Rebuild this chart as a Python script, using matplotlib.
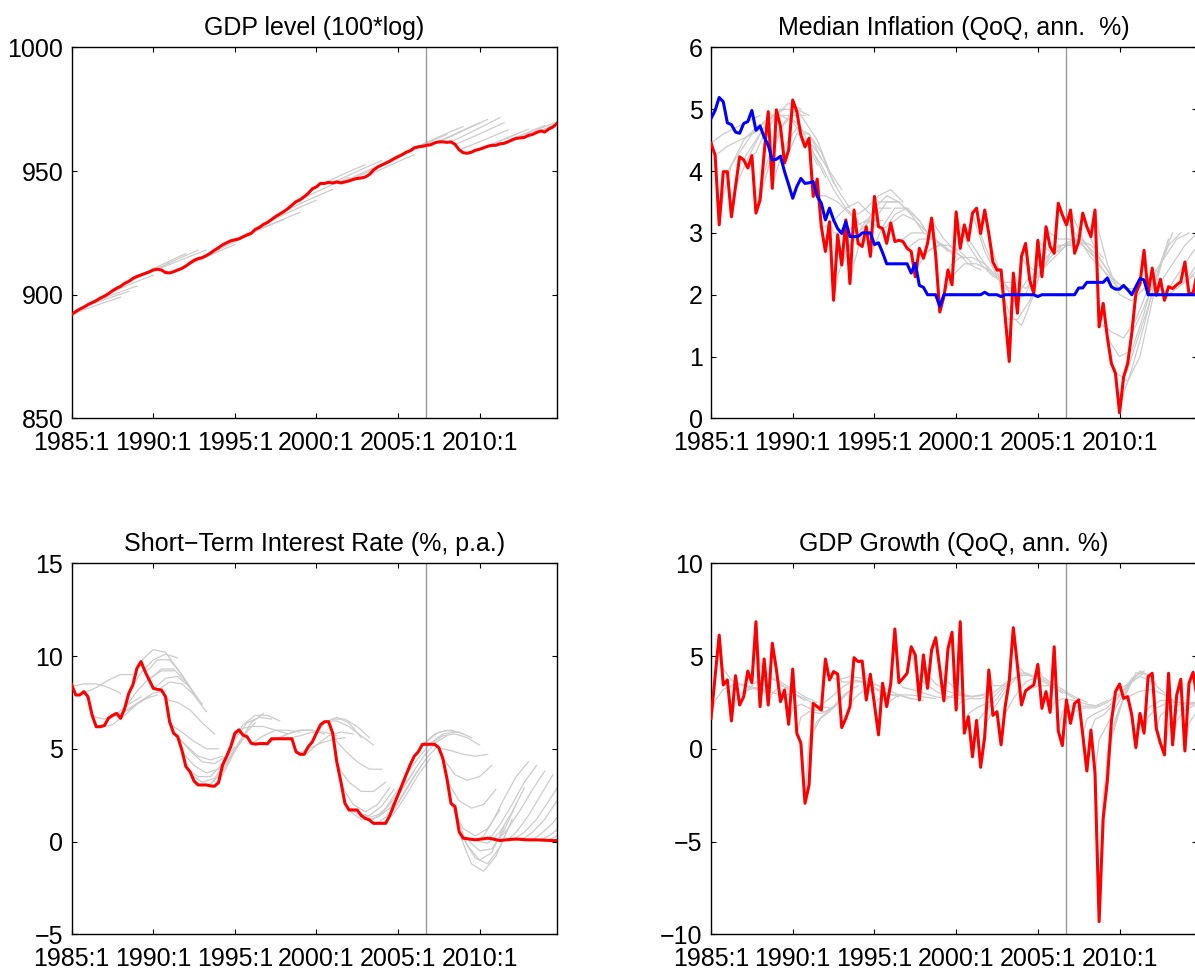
import numpy as np
import matplotlib
matplotlib.use("Agg")
import matplotlib.pyplot as plt

plt.rcParams['font.family'] = ['Liberation Sans', 'DejaVu Sans']
plt.rcParams['font.size'] = 18

# quarterly sample 1985:1 - 2014:4
n_q = 120
dates = 1985 + np.arange(n_q) / 4.0
vline_date = 2006.75
tick_years = [1985, 1990, 1995, 2000, 2005, 2010]
tick_labels = ["1985:1", "1990:1", "1995:1", "2000:1", "2005:1", "2010:1"]

# ---- actual data (red) ----
gdp_level = [892.0, 893.2, 894.2, 895.0, 896.0, 896.8, 897.6, 898.6,
             899.4, 900.4, 901.6, 902.6, 903.4, 904.6, 905.4, 906.6,
             907.4, 908.0, 908.6, 909.2, 910.0, 910.3, 910.0, 909.0,
             908.8, 909.3, 910.0, 910.6, 911.6, 912.8, 913.9, 914.6,
             915.0, 915.8, 916.8, 918.0, 919.0, 920.2, 921.0, 921.8,
             922.2, 922.6, 923.4, 924.2, 924.8, 926.4, 927.2, 928.4,
             929.2, 930.4, 931.6, 932.6, 933.6, 934.8, 936.2, 937.6,
             938.4, 939.6, 941.0, 942.8, 943.6, 945.0, 945.0, 945.4,
             945.2, 945.6, 945.2, 945.6, 946.0, 946.6, 947.0, 947.2,
             947.6, 948.6, 950.4, 951.6, 952.4, 953.2, 954.0, 955.0,
             955.8, 956.6, 957.6, 958.2, 959.4, 959.8, 960.0, 960.4,
             960.6, 961.4, 961.8, 961.8, 961.6, 961.8, 960.8, 958.6,
             957.4, 957.2, 957.6, 958.4, 958.8, 959.4, 960.0, 960.4,
             960.4, 961.0, 961.2, 961.8, 962.6, 963.2, 963.4, 963.6,
             964.4, 964.8, 965.6, 966.2, 965.8, 967.0, 967.8, 969.2]

inflation = [4.45, 4.26, 3.13, 3.99, 3.99, 3.26, 3.75, 4.23, 4.18, 4.05,
             4.25, 3.32, 3.53, 4.29, 4.96, 3.72, 4.99, 4.72, 4.13, 4.34,
             5.15, 4.96, 4.58, 4.39, 4.53, 3.59, 3.87, 3.10, 2.70, 3.18,
             1.91, 2.97, 2.48, 3.21, 2.18, 3.37, 2.83, 2.78, 3.10, 2.62,
             3.59, 3.10, 3.07, 2.83, 3.16, 2.86, 2.88, 2.86, 2.75, 2.70,
             2.29, 2.75, 2.59, 2.83, 3.24, 2.64, 1.72, 1.97, 2.40, 2.16,
             3.34, 2.75, 3.13, 2.88, 3.32, 3.40, 2.99, 3.37, 2.99, 2.53,
             2.40, 2.40, 1.65, 0.92, 2.35, 1.70, 2.62, 2.83, 2.24, 2.02,
             2.88, 2.29, 3.10, 2.78, 2.67, 3.48, 3.29, 3.13, 3.37, 2.67,
             2.86, 3.32, 3.10, 2.94, 3.37, 1.48, 1.86, 1.32, 0.89, 0.73,
             0.09, 0.67, 0.89, 1.38, 2.02, 2.18, 2.72, 2.02, 2.43, 1.99,
             2.25, 1.91, 2.13, 2.10, 2.16, 2.21, 2.53, 2.02, 2.02, 2.35]

infl_target = [4.85, 4.98, 5.19, 5.12, 4.78, 4.75, 4.63, 4.61, 4.77, 4.80,
               4.98, 4.66, 4.73, 4.55, 4.42, 4.18, 4.19, 4.24, 3.99, 3.78,
               3.56, 3.75, 3.88, 3.80, 3.81, 3.83, 3.59, 3.48, 3.21, 3.40,
               3.21, 3.07, 2.99, 3.18, 2.94, 2.94, 2.94, 3.00, 3.00, 3.00,
               2.81, 2.84, 2.68, 2.50, 2.50, 2.50, 2.50, 2.50, 2.50, 2.35,
               2.51, 2.15, 2.12, 2.00, 2.00, 2.00, 1.81, 2.00, 2.00, 2.00,
               2.00, 2.00, 2.00, 2.00, 2.00, 2.00, 2.00, 2.04, 2.00, 2.00,
               2.00, 1.97, 2.00, 2.00, 2.00, 2.00, 2.00, 2.00, 2.00, 2.00,
               1.97, 2.00, 2.00, 2.00, 2.00, 2.00, 2.00, 2.00, 2.00, 2.00,
               2.11, 2.11, 2.20, 2.20, 2.20, 2.20, 2.20, 2.27, 2.13, 2.09,
               2.09, 2.15, 2.08, 2.00, 2.13, 2.26, 2.24, 2.00, 2.00, 2.00,
               2.00, 2.00, 2.00, 2.00, 2.00, 2.00, 2.00, 2.00, 2.00, 2.00]

interest = [8.44, 7.90, 7.90, 8.08, 7.80, 6.82, 6.19, 6.19, 6.25, 6.64,
            6.80, 6.91, 6.64, 7.18, 7.99, 8.44, 9.34, 9.70, 9.16, 8.71,
            8.26, 8.20, 8.17, 7.81, 6.46, 5.84, 5.65, 4.94, 4.04, 3.77,
            3.26, 3.05, 3.05, 3.05, 3.00, 2.98, 3.17, 4.13, 4.60, 5.11,
            5.84, 6.02, 5.74, 5.65, 5.30, 5.25, 5.28, 5.28, 5.27, 5.54,
            5.54, 5.54, 5.54, 5.54, 5.54, 4.84, 4.70, 4.70, 5.11, 5.37,
            5.84, 6.29, 6.46, 6.46, 5.84, 4.30, 3.23, 2.06, 1.70, 1.70,
            1.70, 1.40, 1.25, 1.16, 0.98, 0.98, 0.98, 0.98, 1.40, 1.97,
            2.50, 3.05, 3.60, 4.13, 4.60, 4.84, 5.24, 5.24, 5.24, 5.24,
            5.06, 4.49, 3.41, 2.06, 1.88, 0.53, 0.18, 0.15, 0.12, 0.09,
            0.12, 0.15, 0.18, 0.15, 0.10, 0.05, 0.08, 0.10, 0.12, 0.13,
            0.12, 0.10, 0.09, 0.09, 0.09, 0.08, 0.07, 0.06, 0.05, 0.05]

gdp_growth = [1.64, 3.90, 6.13, 3.44, 3.71, 1.50, 3.94, 2.36, 2.81, 4.19,
              3.56, 6.85, 2.27, 4.84, 2.36, 5.69, 4.28, 2.54, 3.17, 1.32,
              4.30, 0.84, 0.30, -2.94, -1.95, 2.45, 2.27, 2.09, 4.84, 3.71,
              4.16, 4.03, 1.14, 1.64, 2.27, 4.91, 4.70, 4.73, 2.63, 4.02,
              2.40, 0.75, 3.53, 2.27, 3.53, 6.46, 3.56, 3.80, 4.07, 5.50,
              5.06, 2.63, 5.06, 3.26, 5.33, 5.99, 4.30, 2.58, 5.39, 6.28,
              2.09, 6.85, 0.84, 1.73, -0.43, 1.53, -1.00, 0.66, 4.25, 1.80,
              2.00, 0.21, 2.27, 3.66, 6.53, 4.50, 2.36, 3.12, 3.30, 3.44,
              4.55, 2.18, 3.08, 1.96, 5.50, 0.96, 0.17, 2.63, 1.37, 2.45,
              2.63, 0.75, -1.20, 1.01, -1.32, -9.32, -3.75, -1.77, 1.46, 3.08,
              3.49, 2.72, 2.81, 1.82, 0.06, 1.91, 0.84, 3.89, 4.07, 1.10,
              0.30, -0.33, 4.07, 0.21, 2.90, 3.75, -0.12, 3.53, 4.12, 2.72]

# ---- forecasts (grey): origin quarter, values 1,3,6,9,12 quarters ahead ----
fc_steps = [1, 3, 6, 9, 12]

fc_gdp_level = [
    (0, [892.6, 893.9, 895.7, 897.4, 899.0]),
    (2, [894.9, 896.2, 898.0, 899.7, 901.3]),
    (4, [896.7, 898.1, 900.0, 901.8, 903.5]),
    (8, [900.2, 901.8, 904.0, 906.0, 907.9]),
    (12, [904.2, 905.9, 908.3, 910.6, 912.8]),
    (16, [908.2, 909.8, 912.1, 914.4, 916.6]),
    (19, [909.9, 911.4, 913.7, 915.9, 918.0]),
    (21, [910.9, 912.2, 914.2, 916.2, 918.0]),
    (24, [909.5, 911.0, 913.2, 915.4, 917.5]),
    (28, [912.3, 913.8, 916.0, 918.2, 920.3]),
    (32, [915.8, 917.4, 919.8, 922.1, 924.3]),
    (36, [919.8, 921.4, 923.7, 925.9, 928.0]),
    (40, [922.9, 924.4, 926.5, 928.5, 930.4]),
    (44, [925.5, 927.0, 929.2, 931.3, 933.3]),
    (48, [930.0, 931.6, 933.9, 936.1, 938.2]),
    (52, [934.4, 936.0, 938.3, 940.5, 942.6]),
    (56, [939.2, 940.8, 943.1, 945.3, 947.4]),
    (60, [944.4, 946.0, 948.3, 950.5, 952.6]),
    (64, [946.0, 947.6, 949.9, 952.1, 954.2]),
    (66, [945.9, 947.5, 949.8, 952.0, 954.1]),
    (68, [946.8, 948.4, 950.7, 952.9, 955.0]),
    (72, [948.4, 950.0, 952.3, 954.5, 956.6]),
    (76, [953.2, 954.8, 957.1, 959.3, 961.4]),
    (80, [956.6, 958.2, 960.5, 962.7, 964.8]),
    (84, [960.1, 961.6, 963.8, 966.0, 968.0]),
    (88, [961.3, 962.8, 965.0, 967.3, 969.5]),
    (90, [962.5, 964.0, 966.3, 968.6, 970.9]),
    (93, [962.6, 964.2, 966.6, 969.1, 971.6]),
    (94, [961.4, 962.8, 965.0, 967.3, 969.5]),
    (95, [959.2, 960.5, 962.5, 964.6, 966.6]),
    (98, [958.2, 959.5, 961.5, 963.6, 965.6]),
    (100, [959.4, 960.8, 962.8, 964.9, 966.9]),
    (104, [961.0, 962.4, 964.4, 966.4, 968.4]),
    (108, [963.2, 964.6, 966.6, 968.6, 970.6]),
    (112, [965.0, 966.4, 968.4, 970.4, 972.4]),
]

fc_inflation = [
    (0, [4.5, 4.6, 4.7, 4.8, 4.9]), (1, [4.3, 4.4, 4.5, 4.6, 4.7]),
    (2, [3.6, 4.1, 4.5, 4.7, 4.8]), (4, [4.1, 4.3, 4.6, 4.8, 4.9]),
    (6, [3.9, 4.2, 4.6, 4.9, 5.0]), (8, [4.3, 4.5, 4.8, 5.0, 5.0]),
    (10, [4.3, 4.6, 4.9, 5.1, 5.0]), (11, [3.7, 4.2, 4.7, 4.9, 4.9]),
    (12, [3.8, 4.3, 4.8, 5.0, 4.9]), (14, [4.9, 4.9, 4.8, 4.5, 4.1]),
    (15, [4.0, 4.4, 4.7, 4.6, 4.2]), (16, [4.9, 4.9, 4.7, 4.3, 3.9]),
    (18, [4.3, 4.6, 4.6, 4.3, 3.8]), (20, [5.0, 4.8, 4.5, 4.0, 3.7]),
    (22, [4.5, 4.4, 4.1, 3.7, 3.4]), (24, [4.3, 4.1, 3.7, 3.4, 3.2]),
    (25, [3.6, 3.6, 3.5, 3.3, 3.1]), (27, [3.1, 3.2, 3.4, 3.5, 3.3]),
    (29, [3.0, 3.0, 3.1, 3.2, 3.1]), (30, [2.3, 2.7, 3.0, 3.2, 3.2]),
    (32, [2.6, 2.9, 3.2, 3.4, 3.4]), (34, [2.5, 3.0, 3.4, 3.6, 3.5]),
    (35, [3.3, 3.4, 3.6, 3.7, 3.5]), (37, [2.9, 3.2, 3.5, 3.5, 3.3]),
    (39, [2.8, 3.1, 3.4, 3.4, 3.2]), (40, [3.5, 3.5, 3.5, 3.3, 3.0]),
    (42, [3.1, 3.3, 3.4, 3.2, 2.9]), (44, [3.2, 3.3, 3.2, 3.0, 2.8]),
    (46, [2.9, 3.0, 3.0, 2.9, 2.7]), (48, [2.8, 2.9, 2.9, 2.8, 2.6]),
    (50, [2.5, 2.7, 2.8, 2.7, 2.6]), (52, [2.7, 2.8, 2.8, 2.7, 2.5]),
    (54, [3.1, 2.9, 2.7, 2.5, 2.4]), (56, [2.0, 2.3, 2.5, 2.5, 2.4]),
    (58, [2.5, 2.6, 2.6, 2.5, 2.3]), (60, [3.1, 2.8, 2.5, 2.3, 2.2]),
    (62, [2.9, 2.7, 2.4, 2.2, 2.2]), (64, [3.1, 2.7, 2.3, 2.1, 2.2]),
    (66, [2.8, 2.5, 2.1, 2.0, 2.3]), (68, [2.7, 2.3, 1.9, 2.0, 2.5]),
    (70, [2.1, 1.7, 1.5, 2.0, 2.7]), (72, [1.6, 1.6, 1.9, 2.4, 2.8]),
    (74, [2.2, 2.1, 2.3, 2.6, 2.8]), (76, [2.5, 2.4, 2.6, 2.8, 2.8]),
    (78, [2.3, 2.4, 2.6, 2.8, 2.8]), (80, [2.8, 2.7, 2.8, 2.9, 2.8]),
    (82, [3.0, 2.9, 2.9, 2.8, 2.6]), (84, [2.7, 2.8, 2.9, 2.8, 2.6]),
    (86, [3.2, 3.0, 2.8, 2.6, 2.3]), (88, [3.2, 2.9, 2.6, 2.3, 2.1]),
    (90, [2.8, 2.6, 2.4, 2.2, 2.1]), (92, [2.9, 2.6, 2.3, 2.1, 2.1]),
    (94, [3.0, 2.5, 2.0, 1.9, 2.1]), (95, [1.5, 1.4, 1.3, 1.6, 2.1]),
    (97, [1.2, 1.0, 1.1, 1.7, 2.4]), (99, [0.7, 0.6, 1.0, 1.9, 2.7]),
    (100, [0.4, 0.8, 1.5, 2.3, 2.9]), (101, [0.8, 1.2, 1.8, 2.5, 3.0]),
    (103, [1.5, 1.8, 2.3, 2.8, 3.0]), (105, [2.2, 2.3, 2.6, 2.9, 3.0]),
    (107, [2.1, 2.2, 2.5, 2.8, 3.0]), (109, [2.0, 2.1, 2.4, 2.7, 2.9]),
    (111, [2.0, 2.1, 2.3, 2.6, 2.8]), (113, [2.1, 2.2, 2.4, 2.6, 2.8]),
    (115, [2.2, 2.3, 2.4, 2.6, 2.7]),
]

fc_interest = [
    (0, [8.4, 8.5, 8.5, 8.3, 8.0]), (3, [8.1, 8.3, 8.7, 9.0, 9.0]),
    (5, [6.7, 6.6, 6.9, 7.4, 7.8]), (7, [6.2, 6.3, 6.8, 7.4, 7.8]),
    (9, [6.7, 6.9, 7.3, 7.7, 7.9]), (11, [6.9, 7.1, 7.6, 8.0, 8.1]),
    (13, [7.5, 8.1, 8.8, 9.2, 9.2]), (14, [8.4, 9.1, 9.8, 10.1, 9.9]),
    (17, [9.95, 10.35, 10.2, 9.3, 8.3]), (18, [9.3, 9.8, 9.8, 9.0, 8.0]),
    (19, [8.9, 9.3, 9.3, 8.6, 7.6]), (20, [8.4, 8.8, 8.9, 8.3, 7.4]),
    (21, [8.3, 8.6, 8.5, 7.9, 7.0]), (23, [7.6, 7.5, 7.1, 6.4, 5.8]),
    (24, [6.2, 5.9, 5.4, 5.0, 5.0]), (25, [5.6, 5.2, 4.6, 4.4, 4.6]),
    (26, [5.4, 4.9, 4.3, 4.2, 4.6]), (27, [4.6, 4.1, 3.7, 3.9, 4.6]),
    (28, [3.8, 3.5, 3.5, 4.2, 5.1]), (29, [3.5, 3.2, 3.4, 4.3, 5.3]),
    (31, [3.0, 3.1, 3.8, 4.9, 5.8]), (33, [3.1, 3.5, 4.6, 5.7, 6.4]),
    (35, [3.2, 4.0, 5.3, 6.4, 6.9]), (37, [4.6, 5.5, 6.4, 6.7, 6.6]),
    (39, [5.6, 6.3, 6.8, 6.8, 6.5]), (41, [6.1, 6.2, 6.2, 6.0, 5.8]),
    (44, [5.4, 5.7, 6.0, 6.0, 5.9]), (47, [5.3, 5.5, 5.8, 6.0, 6.0]),
    (50, [5.6, 5.8, 6.0, 6.0, 5.8]), (53, [5.6, 5.7, 5.9, 5.9, 5.7]),
    (55, [4.8, 5.0, 5.3, 5.5, 5.6]), (57, [4.8, 5.2, 5.7, 5.9, 5.8]),
    (59, [5.8, 6.4, 6.7, 6.4, 5.6]), (61, [6.4, 6.6, 6.6, 6.2, 5.6]),
    (62, [6.5, 6.5, 6.2, 5.7, 5.2]), (64, [5.4, 4.9, 4.3, 3.9, 3.9]),
    (65, [3.8, 3.2, 2.7, 2.7, 3.2]), (66, [2.7, 2.0, 1.6, 2.0, 2.9]),
    (67, [1.8, 1.5, 1.4, 1.9, 2.8]), (68, [1.5, 1.2, 1.2, 1.8, 2.8]),
    (70, [1.5, 1.3, 1.5, 2.3, 3.3]), (72, [1.2, 1.3, 1.8, 2.8, 3.8]),
    (74, [1.0, 1.3, 2.1, 3.2, 4.2]), (76, [1.1, 1.5, 2.5, 3.6, 4.5]),
    (78, [1.7, 2.4, 3.5, 4.5, 5.2]), (80, [2.8, 3.5, 4.5, 5.3, 5.7]),
    (82, [3.9, 4.5, 5.3, 5.8, 5.9]), (84, [4.9, 5.4, 5.9, 6.0, 5.8]),
    (86, [5.4, 5.8, 6.0, 5.9, 5.6]), (88, [5.4, 5.7, 5.8, 5.6, 5.2]),
    (90, [5.0, 4.9, 4.7, 4.6, 4.7]), (91, [4.2, 3.6, 3.3, 3.5, 4.1]),
    (92, [2.9, 2.2, 1.8, 2.0, 2.8]), (93, [1.5, 0.7, 0.3, 0.7, 1.7]),
    (94, [1.0, -0.2, -1.0, -0.6, 0.8]), (95, [-0.1, -1.2, -1.6, -0.8, 0.7]),
    (96, [-0.2, -0.9, -1.2, -0.3, 1.2]), (97, [-0.1, -0.5, -0.4, 0.6, 2.0]),
    (99, [0.0, -0.1, 0.5, 1.6, 2.9]), (100, [0.3, 1.0, 2.3, 3.5, 4.3]),
    (102, [0.3, 0.9, 2.0, 3.2, 4.1]), (104, [0.2, 0.7, 1.7, 2.8, 3.8]),
    (106, [0.1, 0.5, 1.4, 2.5, 3.6]), (108, [0.2, 0.5, 1.2, 2.2, 3.2]),
    (110, [0.2, 0.5, 1.2, 2.2, 3.2]), (112, [0.1, 0.4, 1.0, 1.9, 2.9]),
    (114, [0.1, 0.3, 0.8, 1.6, 2.5]), (116, [0.1, 0.3, 0.7, 1.4, 2.2]),
]

fc_gdp_growth = [
    (0, [2.6, 3.2, 3.5, 3.4, 3.2]), (2, [4.3, 3.7, 3.4, 3.2, 3.0]),
    (5, [2.6, 3.1, 3.3, 3.1, 2.9]), (8, [3.2, 3.6, 3.8, 3.6, 3.2]),
    (11, [4.5, 4.0, 3.5, 3.0, 2.6]), (14, [3.0, 3.4, 3.2, 2.8, 2.5]),
    (17, [2.9, 3.0, 2.7, 2.3, 2.2]), (19, [2.2, 2.4, 2.1, 2.0, 2.4]),
    (21, [1.7, 2.0, 1.9, 2.2, 2.9]), (23, [0.5, 1.5, 2.0, 2.7, 3.3]),
    (24, [0.9, 1.7, 2.3, 3.0, 3.4]), (26, [2.4, 2.7, 3.3, 3.7, 3.6]),
    (28, [3.9, 3.7, 3.9, 3.8, 3.4]), (31, [3.6, 3.6, 3.6, 3.3, 3.0]),
    (34, [2.7, 3.1, 3.2, 3.0, 2.8]), (37, [3.8, 3.5, 3.2, 2.9, 2.7]),
    (40, [2.7, 2.9, 2.9, 2.7, 2.6]), (43, [2.6, 2.9, 2.9, 2.8, 2.7]),
    (46, [3.3, 3.2, 3.0, 2.8, 2.7]), (49, [4.2, 3.6, 3.1, 2.8, 2.7]),
    (52, [4.0, 3.5, 3.1, 2.9, 2.8]), (55, [4.3, 3.6, 3.0, 2.8, 2.9]),
    (57, [2.8, 2.9, 2.8, 2.9, 3.1]), (60, [2.5, 2.7, 2.7, 3.0, 3.5]),
    (62, [1.9, 2.2, 2.5, 3.2, 3.8]), (64, [1.4, 2.0, 2.7, 3.6, 4.1]),
    (66, [1.2, 2.1, 3.1, 3.9, 4.0]), (68, [3.4, 3.4, 3.8, 4.1, 3.8]),
    (71, [1.9, 2.7, 3.6, 3.9, 3.5]), (74, [4.5, 4.0, 3.8, 3.4, 3.0]),
    (77, [3.2, 3.4, 3.4, 3.1, 2.7]), (80, [3.9, 3.6, 3.2, 2.8, 2.5]),
    (83, [2.5, 2.7, 2.6, 2.4, 2.3]), (85, [2.0, 2.3, 2.3, 2.3, 2.6]),
    (88, [2.0, 2.2, 2.2, 2.5, 3.0]), (91, [1.6, 1.9, 2.2, 2.9, 3.7]),
    (93, [1.6, 1.8, 2.5, 3.5, 4.1]), (94, [0.5, 1.3, 2.6, 3.8, 4.2]),
    (95, [-2.5, 0.5, 2.8, 4.1, 4.0]), (96, [-0.2, 1.6, 3.3, 4.2, 3.8]),
    (97, [0.8, 2.2, 3.6, 4.1, 3.5]), (99, [3.2, 3.5, 3.9, 3.6, 3.0]),
    (102, [2.9, 3.1, 3.2, 2.9, 2.5]), (104, [1.5, 2.2, 2.6, 2.6, 2.4]),
    (106, [1.7, 2.2, 2.5, 2.5, 2.4]), (109, [1.8, 2.2, 2.4, 2.5, 2.5]),
    (111, [1.3, 2.0, 2.4, 2.5, 2.5]), (113, [1.5, 2.1, 2.4, 2.5, 2.5]),
    (116, [1.4, 2.0, 2.3, 2.4, 2.5]),
]


def draw_panel(ax, title, actual, fcasts, ylim, yticks, extra=None):
    for s, vals in fcasts:
        xs = dates[s] + np.array([0] + fc_steps) / 4.0
        ys = [actual[s]] + vals
        ax.plot(xs, ys, color=(0.8, 0.8, 0.8), lw=0.9, zorder=2)
    ax.axvline(vline_date, color=(0.6, 0.6, 0.6), lw=1.0, zorder=2.5)
    ax.plot(dates, actual, color='red', lw=2.2, zorder=3)
    if extra is not None:
        ax.plot(dates, extra, color='blue', lw=2.2, zorder=4)
    ax.set_xlim(1985, 2014.75)
    ax.set_ylim(*ylim)
    ax.set_yticks(yticks)
    ax.set_xticks(tick_years)
    ax.set_xticklabels(tick_labels)
    ax.set_title(title, fontsize=18, pad=9)
    ax.tick_params(direction='in', top=True, right=True, length=3.6, width=0.8)
    ax.tick_params(axis='x', pad=9)
    ax.tick_params(axis='y', pad=6)
    for sp in ax.spines.values():
        sp.set_linewidth(1.0)


fig = plt.figure(figsize=(11.95, 9.73), dpi=100)
ax1 = fig.add_axes([0.0600, 0.5700, 0.4061, 0.3813])
ax2 = fig.add_axes([0.5950, 0.5700, 0.4068, 0.3813])
ax3 = fig.add_axes([0.0600, 0.0398, 0.4061, 0.3813])
ax4 = fig.add_axes([0.5950, 0.0398, 0.4068, 0.3813])

draw_panel(ax1, "GDP level (100*log)", gdp_level, fc_gdp_level,
           (850, 1000), [850, 900, 950, 1000])
draw_panel(ax2, "Median Inflation (QoQ, ann.  %)", inflation, fc_inflation,
           (0, 6), [0, 1, 2, 3, 4, 5, 6], extra=infl_target)
draw_panel(ax3, "Short\u2212Term Interest Rate (%, p.a.)", interest, fc_interest,
           (-5, 15), [-5, 0, 5, 10, 15])
draw_panel(ax4, "GDP Growth (QoQ, ann. %)", gdp_growth, fc_gdp_growth,
           (-10, 10), [-10, -5, 0, 5, 10])

fig.savefig("out.png", dpi=100)
